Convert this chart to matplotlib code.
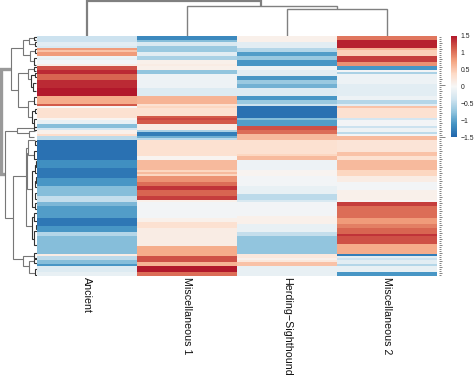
import matplotlib
matplotlib.use("Agg")
import matplotlib.pyplot as plt
import numpy as np
from matplotlib.colors import LinearSegmentedColormap, Normalize
from matplotlib.cm import ScalarMappable

plt.rcParams['font.family'] = ['Liberation Sans', 'DejaVu Sans']

categories = ["Ancient", "Miscellaneous 1", "Herding\u2212Sighthound", "Miscellaneous 2"]

ancient = [
 -.4,-.4,-.4,-.2,-.2,-.3,.8,.55,.8,.8,
 -.1,-.15,-.05,-.05,.15,1.2,1.2,1.4,1.4,1.1,
 1.1,1.1,1.4,1.4,1.4,1.4,1.55,1.55,1.55,1.55,
 .7,.7,.7,.7,1.15,.0,.3,.3,.3,.3,
 .3,.05,-.15,-.15,-.8,-.8,-.35,.1,.1,.35,
 -.5,-.5,-1.4,-1.4,-1.4,-1.4,-1.4,-1.4,-1.4,-1.4,
 -1.4,-1.4,-1.15,-1.15,-1.15,-1.15,-1.35,-1.35,-1.35,-1.35,
 -1.35,-1.1,-1.1,-1.1,-1.1,-.8,-.8,-.8,-.8,-.8,
 -.45,-.45,-.45,-.85,-.85,-1.05,-1.05,-1.05,-1.05,-1.05,
 -1.05,-1.35,-1.35,-1.35,-1.35,-1.1,-1.1,-1.1,-.55,-.55,
 -.8,-.8,-.8,-.8,-.8,-.8,-.8,-.8,-.8,.15,
 -.5,-.5,-.8,-.8,-1.1,-.25,-.25,-.25,-.15,-.15]
misc1 = [
 -1.2,-1.2,-.8,-.3,-.3,-.7,-.7,-.7,-.2,-.2,
 -.6,-.6,.1,.1,.15,.1,.1,-.75,-.75,-.1,
 -.1,-.1,-.1,-.1,-.1,-.1,-.25,-.25,-.25,-.25,
 .65,.65,.65,.65,.3,.4,.3,.3,.3,.3,
 1.15,1.25,1.15,1.15,.15,.15,.15,-.6,-1.3,-1.3,
 -.9,-.5,.3,.3,.3,.3,.3,.3,.3,.3,
 .05,.05,.6,.6,.6,.6,.6,.4,.6,.4,
 .85,.85,.85,1.05,1.05,1.35,1.35,1.1,1.1,1.1,
 1.3,1.3,.1,-.05,-.05,-.05,-.05,-.05,-.05,-.05,
 -.05,.1,.1,.3,.3,.3,.15,.15,.15,.15,
 .15,.15,.15,.15,.15,.7,.7,.7,.7,.7,
 1.2,1.2,1.2,.65,.65,1.5,1.5,1.5,1.05,1.05]
herding = [
 .1,.1,.1,-.2,-.2,-.2,-.55,-.55,-1.05,-1.05,
 -.7,-.7,-1.1,-1.1,-1.1,-.1,-.1,-.2,-.2,-.2,
 -1.1,-1.1,-.7,-.7,-.9,-.9,-.25,-.25,-.25,-.25,
 -1.1,-1.1,-.7,-.7,-.4,-1.4,-1.4,-1.4,-1.4,-1.4,
 -1.4,-.8,-1.05,-1.05,-1.05,1.2,1.2,1.05,1.05,.6,
 .6,.6,.3,.3,.3,.3,.3,.3,.3,.4,
 .6,.6,-.1,-.1,-.1,-.1,-.1,.05,.05,.05,
 -.05,-.05,-.05,-.05,-.05,-.15,-.15,-.15,-.15,-.5,
 -.5,-.5,-.3,-.05,-.05,-.05,-.05,-.05,-.05,-.05,
 .1,.1,.1,.1,-.15,-.15,-.15,-.15,-.45,-.45,
 -.75,-.75,-.75,-.75,-.75,-.75,-.75,-.75,-.75,.2,
 .2,.1,.2,.55,.55,-.15,-.15,-.15,-.15,-.15]
misc2 = [
 1.0,1.0,1.45,1.45,1.45,1.45,.65,.45,.45,.45,
 1.3,1.3,1.3,.85,.85,-1.1,-1.1,-.05,-.6,-.1,
 -.1,-.1,-.1,-.1,-.2,-.2,-.2,-.2,-.2,-.2,
 -.1,-.1,-.55,-.55,-.2,.55,.3,.3,.3,.3,
 .3,-.35,-.05,-.05,-.05,-.4,-.1,-.1,-.5,-.05,
 .6,.6,.25,.25,.25,.25,.25,.25,.55,.55,
 .3,.3,.6,.6,.6,.6,.6,.4,.4,.4,
 .15,.15,.15,-.05,-.05,-.05,-.05,.1,.1,.1,
 .1,.1,.05,1.3,1.3,1.05,1.05,1.05,1.05,1.05,
 1.05,.8,.8,.8,.95,.95,1.1,1.1,1.1,1.35,
 1.2,1.2,1.2,1.2,.7,.7,.7,.7,.7,-1.3,
 -.2,-.4,-.2,-.2,-.55,-.15,-.15,-.15,-1.1,-1.1]

# row dendrogram merges: height, upper row, upper child height, lower row, lower child height
row_merges = [
 (36,16,26.5,68.5,32.5),(26.5,5.5,14,26.5,19),(14,1.5,8,9,7),(19,18,9,35,9),
 (8,.5,3,3.5,2),(3,0,0,1.5,1),(2,2.5,0,4.5,0),(7,7,2,12,3),(3,10.5,0,14,1),(2,6,0,8,0),
 (9,16,3,21,6),(3,15,0,17,1),(6,19,2,25,4),(4,23,1,27,1),(2,18,0,20,0),
 (9,32,3,40,5),(3,30,0,33.5,1),(5,37,2,43,3),(2,36,0,38,0),(3,41,0,45,1),
 (32.5,47,20,90.5,24),(20,45.5,3,48,8),(8,47,2,50,3),(3,45,0,46.5,0),(24,69.5,11,111,14),
 (11,55.5,9,94.5,5.5),(10.5,58,9,76,5),(9,51.5,2,59,3),(5.5,90,3,101,3),
 (14,109.5,3,114.5,8),(8,112,3,118,2),(3,108,0,110.5,0),(3,111,0,113,0),(2,116,0,119,0),
 (2,52,0,54,0),(3,57,0,61,0),(5,67,2,85,2),(2,64,0,68,0),(2,72,0,75,0),(2,78,0,81,0),
 (2,83,0,86,0),(3,88,0,92,0),(3,97,0,104,0),(1.5,62,0,65,0),(1.5,70,0,73,0),(1.5,94,0,96,0),
]
# column dendrogram merges: height, left column, left child height, right column, right child height
col_merges = [
 (35,0,0,1.74,30),(30,1,0,2.5,27.5),(27.5,2,0,3,0),
]
# small row-label stubs to the right of the heatmap
row_stub = [2,2,2,3,2,2,3,2,2,2,2,3,2,2,2,3,2,2,2,2,
 2,3,2,2,6,2,2,3,2,2,3,2,2,2,2,3,2,2,3,2,
 2,2,2,3,2,2,2,3,2,3,6,2,2,2,3,2,2,3,2,2,
 2,3,2,2,2,3,2,2,3,2,2,2,3,2,2,3,2,2,2,2,
 3,2,2,3,2,2,2,3,2,2,3,2,2,2,3,2,2,2,3,2,
 2,3,2,2,3,2,2,2,3,2,2,2,3,2,2,3,2,2,3,2]

colors = ["#2166AC","#4393C3","#92C5DE","#D1E5F0","#F7F7F7","#FDDBC7","#F4A582","#D6604D","#B2182B"]
W, H = 474, 375
cmap = LinearSegmentedColormap.from_list("rdbu", colors, N=256)
norm = Normalize(-1.5, 1.5)

def pxax(x0, y0, x1, y1):
    a = fig.add_axes([x0 / W, 1 - y1 / H, (x1 - x0) / W, (y1 - y0) / H])
    a.set_axis_off()
    return a

fig = plt.figure(figsize=(W / 100, H / 100), dpi=100)

matrix = np.array([ancient, misc1, herding, misc2]).T
ax = pxax(37, 36, 437, 276)
ax.pcolormesh(np.arange(5) - .5, np.arange(121) - .5, matrix, cmap=cmap, norm=norm,
              edgecolors="none", antialiased=False)
ax.set_xlim(-.5, 3.5)
ax.set_ylim(119.5, -.5)
for i, c in enumerate(categories):
    ax.annotate(c, (i, 0), xycoords=("data", "axes fraction"), xytext=(0, -1),
                textcoords="offset points", rotation=270, ha="center", va="top",
                fontsize=7.7, color="#111111", annotation_clip=False)

axl = pxax(0, 36, 37, 276)
axl.set_xlim(37, 0)
axl.set_ylim(119.5, -.5)
for n, (h, a, ha_, b, hb) in enumerate(row_merges):
    lw = 2.4 if n == 0 else 0.8
    col = "#999999" if n == 0 else ("#777777" if h > 6 else "#333333")
    axl.plot([ha_, h, h, hb], [a, a, b, b], color=col, lw=lw, solid_joinstyle="miter",
             solid_capstyle="butt", clip_on=True)

axt = pxax(37, 0, 437, 36)
axt.set_xlim(-.5, 3.5)
axt.set_ylim(0, 36)
for n, (h, a, ha_, b, hb) in enumerate(col_merges):
    axt.plot([a, a, b, b], [ha_, h, h, hb], color="#808080", lw=1.6 if n == 0 else 1.0,
             solid_capstyle="butt", solid_joinstyle="miter")

axr = pxax(438, 36, 446, 276)
axr.set_xlim(0, 8)
axr.set_ylim(119.5, -.5)
axr.hlines(np.arange(len(row_stub)), 1, np.array(row_stub) + 1, color="#707070", lw=0.6)

cax = fig.add_axes([450.5 / W, 1 - 137 / H, 6.5 / W, 101 / H])
cb = fig.colorbar(ScalarMappable(norm=norm, cmap=cmap), cax=cax)
cb.outline.set_visible(False)
cb.set_ticks([-1.5, -1, -.5, 0, .5, 1, 1.5])
cb.set_ticklabels(["\u22121.5", "\u22121", "\u22120.5", "0", "0.5", "1", "1.5"])
cb.ax.tick_params(length=0, pad=2.5, labelsize=4.9, labelcolor="#222222")

fig.savefig("out.png", dpi=100, facecolor="white")
